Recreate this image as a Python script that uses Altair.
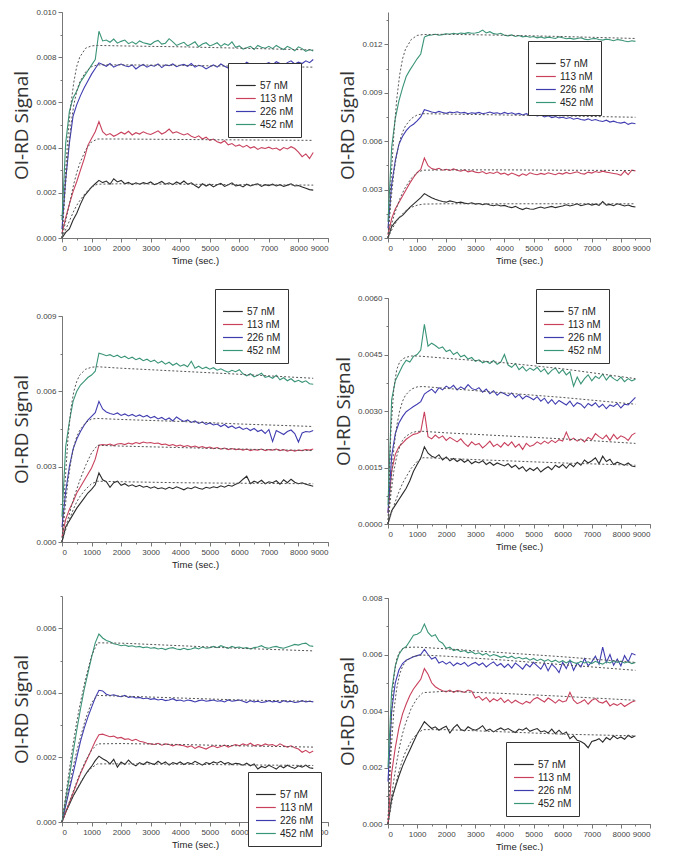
import altair as alt
import pandas as pd

# sampling grid of the measured curves (s)
T = [0, 125, 250, 375, 500, 625, 750, 875, 1000, 1125, 1250, 1375, 1500, 1625, 1750,
     1875, 2000, 2125, 2250, 2375, 2500, 2625, 2750, 2875, 3000, 3125, 3250, 3375,
     3500, 3625, 3750, 3875, 4000, 4125, 4250, 4375, 4500, 4625, 4750, 4875, 5000,
     5125, 5250, 5375, 5500, 5625, 5750, 5875, 6000, 6125, 6250, 6375, 6500, 6625,
     6750, 6875, 7000, 7125, 7250, 7375, 7500, 7625, 7750, 7875, 8000, 8125, 8250,
     8375, 8500]
FIT_T = [0, 100, 200, 300, 400, 500, 600, 800, 1000, 1200, 2000, 4000, 6000, 8500]
SERIES = ["57 nM", "113 nM", "226 nM", "452 nM"]
COLORS = ["#2b2b2b", "#c8405c", "#3f3cb0", "#3a9478"]
X_TICKS = [0, 1000, 2000, 3000, 4000, 5000, 6000, 7000, 8000, 9000]
X_MINOR = [0, 500, 1000, 1500, 2000, 2500, 3000, 3500, 4000, 4500, 5000, 5500,
           6000, 6500, 7000, 7500, 8000, 8500, 9000]

# signal values in units of 1e-5
p1_57 = [0, 25, 40, 80, 110, 150, 185, 205, 225, 240, 255,
         245, 252, 238, 262, 248, 255, 240, 246, 236, 244, 238, 245, 240, 248,
         236, 242, 250, 238, 244, 236, 248, 240,
         252, 238, 244, 232, 222, 240, 230, 238,
         226, 236, 242, 228, 236, 244, 230, 234,
         226, 238, 230, 236, 240, 228, 236, 232,
         238, 230, 236, 228, 234, 240, 230, 232,
         226, 220, 214, 212]
p1_113 = [20, 90, 150, 205, 250, 300, 350, 410, 440, 470, 515,
          470, 455, 462, 450, 458, 468, 460, 472, 456, 466, 460, 470, 462, 458,
          466, 474, 460, 468, 482, 464, 470, 462,
          456, 462, 450, 444, 452, 438, 446, 432,
          438, 426, 420, 430, 412, 418, 406, 412,
          402, 410, 398, 404, 392, 400, 396, 402,
          394, 398, 388, 400, 394, 404, 396, 380,
          360, 372, 352, 378]
p1_226 = [40, 260, 420, 540, 590, 630, 665, 695, 725, 750, 775,
          768, 760, 772, 756, 764, 770, 762, 758, 766, 748, 760, 768, 756, 764,
          760, 770, 754, 766, 762, 770, 758, 764,
          768, 760, 772, 756, 764, 760, 748, 758,
          766, 756, 770, 760, 752, 764, 772, 760,
          764, 778, 768, 760, 772, 764, 770, 776,
          766, 780, 772, 764, 776, 784, 770, 778,
          772, 784, 776, 790]
p1_452 = [80, 420, 560, 620, 650, 690, 715, 740, 765, 790, 915,
          872, 876, 866, 880, 862, 870, 876, 860, 868, 858, 872, 864, 860, 856,
          868, 874, 858, 862, 882, 868, 852, 860,
          866, 850, 858, 868, 846, 858, 864, 850,
          856, 864, 848, 860, 852, 868, 844, 850,
          836, 842, 848, 834, 852, 844, 840, 848,
          838, 852, 842, 834, 848, 840, 828, 846,
          838, 826, 834, 828]

p2_57 = [0, 70, 100, 125, 140, 165, 190, 210, 230, 250, 275,
         262, 250, 240, 232, 226, 222, 230, 224, 218, 222, 216, 212, 218, 210,
         214, 206, 212, 204, 200, 206, 198, 202,
         194, 188, 196, 184, 176, 186, 180, 178,
         186, 192, 184, 190, 196, 188, 194, 198,
         206, 198, 204, 212, 200, 206, 212, 204,
         210, 202, 226, 204, 208, 200, 212, 206,
         198, 204, 196, 192]
p2_113 = [20, 120, 180, 220, 260, 300, 340, 375, 405, 425, 495,
          448, 430, 424, 432, 420, 426, 418, 428, 420, 414, 422, 410, 416, 408,
          404, 412, 398, 406, 400, 410, 396, 402,
          390, 402, 394, 384, 398, 388, 404, 396,
          392, 400, 394, 404, 398, 392, 402, 396,
          406, 398, 404, 410, 400, 396, 408, 402,
          412, 406, 414, 408, 404, 400, 396, 388,
          414, 392, 420, 416]
p2_226 = [60, 330, 480, 580, 630, 665, 690, 705, 725, 750, 795,
          788, 780, 776, 784, 778, 772, 780, 776, 782, 774, 778, 770, 776, 772,
          778, 770, 774, 780, 772, 776, 768, 778,
          770, 776, 766, 772, 762, 770, 760, 764,
          756, 762, 750, 758, 746, 752, 744, 748,
          740, 746, 736, 742, 734, 730, 738, 728,
          734, 726, 722, 730, 718, 724, 716, 712,
          718, 704, 712, 708]
p2_452 = [100, 560, 740, 850, 930, 1000, 1040, 1075, 1110, 1140, 1245,
          1255, 1258, 1262, 1256, 1260, 1265, 1262, 1268, 1264, 1270, 1266, 1272, 1268, 1270,
          1275, 1288, 1270, 1278, 1266, 1262, 1268, 1256,
          1252, 1258, 1248, 1254, 1246, 1250, 1244, 1248,
          1240, 1246, 1238, 1244, 1240, 1236, 1246, 1240,
          1234, 1238, 1232, 1236, 1240, 1232, 1228, 1234,
          1236, 1230, 1226, 1232, 1228, 1222, 1230, 1226,
          1220, 1216, 1222, 1218]

p3_57 = [0, 60, 85, 110, 135, 155, 175, 195, 210, 228, 275,
         248, 240, 218, 236, 242, 226, 232, 222, 228, 220, 226, 218, 222, 214,
         220, 212, 216, 210, 218, 212, 220, 214,
         208, 216, 212, 220, 214, 210, 218, 214,
         220, 216, 224, 218, 226, 222, 230, 236,
         250, 262, 232, 242, 236, 246, 232, 240,
         236, 244, 230, 248, 236, 250, 238, 232,
         236, 230, 226, 222]
p3_113 = [20, 90, 130, 160, 195, 220, 245, 270, 295, 330, 385,
          388, 386, 390, 384, 390, 392, 388, 394, 390, 396, 392, 398, 394, 396,
          392, 394, 388, 390, 384, 388, 382, 386,
          380, 384, 378, 382, 376, 380, 374, 378,
          372, 376, 370, 374, 368, 372, 368, 370,
          366, 370, 364, 368, 366, 370, 364, 368,
          366, 370, 364, 368, 362, 366, 362, 366,
          364, 368, 366, 370]
p3_226 = [60, 200, 300, 370, 410, 440, 465, 485, 500, 515, 560,
          530, 518, 512, 508, 514, 504, 510, 502, 508, 500, 506, 498, 504, 494,
          500, 490, 496, 486, 494, 482, 498, 488,
          480, 486, 476, 482, 472, 478, 468, 474,
          466, 470, 460, 468, 456, 462, 452, 458,
          448, 454, 444, 452, 440, 446, 432, 448,
          400, 444, 436, 428, 440, 446, 432, 398,
          434, 440, 438, 444]
p3_452 = [100, 380, 480, 560, 600, 625, 640, 655, 665, 680, 752,
          748, 742, 746, 738, 744, 734, 740, 730, 736, 726, 732, 722, 728, 718,
          724, 712, 720, 708, 716, 704, 712, 700,
          706, 698, 720, 692, 700, 690, 696, 688,
          694, 684, 690, 682, 676, 684, 678, 686,
          670, 662, 670, 658, 664, 672, 656, 660,
          652, 664, 646, 654, 642, 650, 638, 644,
          636, 642, 630, 628]

p4_57 = [0, 35, 50, 65, 80, 95, 115, 140, 158, 175, 205,
         188, 180, 176, 184, 170, 178, 168, 174, 166, 172, 164, 170, 160, 166,
         162, 168, 158, 164, 156, 162, 158, 154,
         160, 150, 156, 146, 152, 140, 148, 142,
         150, 138, 146, 152, 144, 156, 150, 158,
         148, 160, 152, 164, 156, 170, 162, 168,
         176, 160, 180, 166, 172, 158, 164, 160,
         156, 162, 154, 152]
p4_113 = [30, 140, 185, 205, 215, 225, 232, 238, 240, 245, 298,
          232, 226, 236, 228, 234, 222, 230, 224, 218, 226, 214, 206, 218, 210,
          214, 202, 210, 220, 206, 212, 204, 216,
          208, 218, 204, 212, 198, 214, 206, 210,
          218, 212, 220, 214, 222, 216, 224, 220,
          244, 222, 228, 220, 226, 218, 230, 224,
          240, 232, 226, 236, 222, 238, 226, 234,
          230, 222, 236, 242]
p4_226 = [30, 180, 240, 268, 285, 298, 305, 312, 318, 325, 345,
          352, 358, 348, 362, 356, 366, 360, 368, 356, 364, 358, 370, 360, 356,
          362, 350, 358, 346, 354, 342, 350, 346,
          340, 348, 336, 344, 332, 340, 336, 330,
          338, 326, 334, 320, 330, 318, 328, 322,
          316, 326, 312, 322, 318, 308, 320, 314,
          322, 310, 318, 306, 316, 312, 320, 308,
          318, 316, 326, 336]
p4_452 = [50, 330, 380, 400, 420, 435, 430, 445, 450, 462, 530,
          472, 480, 474, 466, 470, 458, 462, 450, 456, 444, 448, 438, 442, 432,
          436, 428, 432, 426, 434, 424, 430, 450,
          422, 416, 426, 410, 418, 406, 414, 408,
          416, 404, 412, 398, 408, 414, 400, 410,
          396, 404, 366, 390, 372, 386, 396, 380,
          392, 386, 398, 382, 394, 386, 380, 390,
          378, 386, 380, 384]

p5_57 = [0, 30, 55, 80, 100, 120, 140, 158, 172, 190, 204,
         196, 190, 180, 194, 170, 186, 178, 192, 180, 174, 184, 178, 186, 182,
         178, 188, 180, 186, 176, 184, 180, 186,
         178, 184, 180, 188, 182, 176, 184, 180,
         186, 182, 188, 180, 184, 178, 182, 180,
         176, 182, 174, 180, 164, 172, 168, 176,
         170, 164, 174, 168, 176, 170, 166, 174,
         170, 176, 168, 166]
p5_113 = [0, 30, 60, 90, 120, 150, 175, 200, 225, 250, 270,
          272, 268, 264, 266, 260, 262, 256, 258, 252, 256, 250, 248, 244, 242,
          240, 244, 238, 242, 240, 236, 240, 238,
          236, 232, 236, 228, 234, 230, 226, 232,
          236, 230, 234, 238, 232, 236, 240, 236,
          242, 238, 244, 236, 240, 236, 242, 238,
          240, 234, 242, 236, 232, 236, 230, 226,
          216, 222, 214, 220]
p5_226 = [0, 50, 100, 150, 200, 250, 290, 325, 355, 385, 408,
          406, 396, 392, 394, 390, 388, 392, 386, 388, 384, 386, 382, 384, 380,
          382, 378, 380, 376, 378, 382, 376, 378,
          374, 378, 376, 372, 376, 378, 374, 376,
          378, 374, 376, 372, 378, 374, 376, 378,
          374, 370, 376, 372, 374, 370, 372, 376,
          372, 374, 370, 376, 372, 374, 370, 372,
          376, 372, 374, 372]
p5_452 = [0, 70, 140, 215, 285, 350, 410, 460, 510, 555, 582,
          570, 562, 558, 552, 550, 546, 548, 544, 546, 542, 544, 540, 542, 538,
          540, 536, 538, 534, 538, 540, 536, 534,
          538, 534, 536, 540, 536, 542, 538, 540,
          544, 540, 546, 542, 538, 544, 540, 542,
          538, 540, 536, 540, 542, 546, 540, 538,
          542, 544, 540, 538, 542, 546, 550, 548,
          552, 554, 546, 544]

p6_57 = [0, 90, 130, 170, 205, 235, 262, 290, 318, 340, 362,
         350, 338, 344, 332, 340, 346, 322, 340, 352, 334, 330, 344, 336, 332,
         338, 348, 330, 336, 326, 334, 340, 332,
         338, 330, 324, 336, 332, 340, 328, 334,
         338, 326, 330, 322, 336, 320, 332, 318,
         326, 302, 312, 296, 292, 284, 270, 292,
         296, 302, 290, 306, 298, 312, 302, 308,
         300, 314, 306, 312]
p6_113 = [0, 180, 270, 340, 390, 425, 455, 478, 495, 512, 550,
          530, 500, 486, 478, 472, 468, 474, 466, 472, 470, 466, 474, 470, 446,
          452, 438, 448, 432, 444, 436, 446, 430,
          440, 428, 438, 430, 424, 434, 428, 442,
          448, 440, 432, 446, 438, 428, 440, 432,
          436, 466, 438, 426, 432, 440, 424, 438,
          444, 432, 428, 436, 418, 426, 420, 428,
          416, 424, 432, 436]
p6_226 = [150, 400, 500, 545, 568, 580, 586, 592, 596, 600, 618,
          600, 584, 590, 570, 576, 566, 574, 560, 570, 564, 572, 558, 566, 572,
          562, 570, 556, 566, 574, 560, 568, 554,
          566, 552, 570, 560, 548, 566, 556, 572,
          560, 548, 570, 542, 566, 554, 536, 572,
          550, 580, 544, 570, 556, 586, 560, 574,
          594, 566, 626, 572, 600, 562, 584, 560,
          596, 574, 604, 598]
p6_452 = [200, 470, 560, 600, 620, 628, 648, 668, 672, 680, 708,
          678, 664, 670, 648, 640, 622, 626, 614, 618, 610, 614, 606, 610, 602,
          606, 598, 604, 594, 600, 596, 590, 594,
          588, 594, 586, 590, 584, 588, 580, 586,
          578, 584, 576, 582, 574, 580, 572, 578,
          570, 578, 572, 568, 576, 570, 574, 568,
          576, 570, 566, 574, 570, 578, 572, 576,
          570, 574, 568, 572]

# fitted curves (dotted), units of 1e-5, at FIT_T
f1 = [[0, 30, 60, 90, 120, 145, 165, 200, 225, 238, 240, 238, 236, 234],
      [0, 60, 120, 180, 240, 290, 330, 390, 425, 438, 438, 436, 434, 432],
      [0, 200, 370, 500, 590, 650, 690, 735, 758, 766, 766, 764, 760, 756],
      [0, 250, 450, 590, 690, 760, 800, 840, 850, 852, 850, 846, 840, 832]]
f2 = [[0, 40, 75, 105, 130, 150, 168, 190, 203, 210, 212, 212, 212, 212],
      [0, 70, 135, 190, 240, 280, 315, 370, 405, 420, 422, 422, 420, 418],
      [0, 230, 400, 520, 600, 655, 695, 740, 762, 770, 768, 762, 756, 748],
      [0, 350, 640, 860, 1010, 1110, 1170, 1230, 1255, 1260, 1262, 1256, 1248, 1236]]
f3 = [[0, 40, 75, 105, 135, 160, 180, 210, 232, 242, 240, 236, 234, 232],
      [0, 45, 90, 135, 175, 210, 245, 305, 355, 385, 382, 376, 370, 364],
      [0, 130, 240, 320, 380, 420, 445, 475, 490, 492, 488, 480, 470, 460],
      [0, 230, 410, 530, 600, 640, 665, 688, 696, 698, 692, 680, 668, 652]]
f4 = [[0, 25, 48, 70, 90, 108, 122, 148, 166, 176, 174, 168, 162, 156],
      [0, 80, 140, 180, 205, 222, 232, 242, 246, 246, 242, 234, 226, 214],
      [0, 110, 200, 260, 300, 326, 342, 358, 364, 365, 360, 348, 336, 318],
      [0, 250, 360, 410, 430, 438, 442, 446, 446, 445, 440, 428, 412, 386]]
f5 = [[0, 25, 45, 65, 85, 102, 118, 148, 168, 180, 180, 179, 177, 175],
      [0, 25, 50, 75, 100, 125, 148, 190, 222, 242, 243, 240, 236, 232],
      [0, 45, 90, 135, 180, 220, 255, 320, 370, 392, 390, 384, 378, 374],
      [0, 65, 130, 195, 255, 310, 360, 445, 515, 555, 554, 546, 538, 530]]
f6 = [[0, 60, 110, 155, 195, 228, 255, 295, 320, 334, 334, 326, 318, 312],
      [0, 80, 155, 220, 275, 320, 355, 410, 445, 465, 470, 462, 452, 438],
      [0, 250, 400, 480, 530, 558, 575, 590, 596, 598, 594, 580, 564, 544],
      [0, 340, 520, 585, 610, 620, 624, 626, 626, 625, 620, 606, 592, 572]]

Y1 = [0, 0.002, 0.004, 0.006, 0.008, 0.010]
Y1m = [0, 0.001, 0.002, 0.003, 0.004, 0.005, 0.006, 0.007, 0.008, 0.009, 0.010]
Y2 = [0, 0.003, 0.006, 0.009, 0.012]
Y2m = [0, 0.0015, 0.003, 0.0045, 0.006, 0.0075, 0.009, 0.0105, 0.012, 0.0135]
Y3 = [0, 0.003, 0.006, 0.009]
Y3m = [0, 0.0015, 0.003, 0.0045, 0.006, 0.0075, 0.009]
Y4 = [0, 0.0015, 0.003, 0.0045, 0.006]
Y4m = [0, 0.00075, 0.0015, 0.00225, 0.003, 0.00375, 0.0045, 0.00525, 0.006]
Y5 = [0, 0.002, 0.004, 0.006]
Y5m = [0, 0.001, 0.002, 0.003, 0.004, 0.005, 0.006, 0.007]
Y6 = [0, 0.002, 0.004, 0.006, 0.008]
Y6m = [0, 0.001, 0.002, 0.003, 0.004, 0.005, 0.006, 0.007, 0.008]

AX = dict(labelFont="Liberation Sans", labelFontSize=8, labelColor="#444",
          domainColor="#777", tickColor="#777", tickSize=4, grid=False, labelPadding=2)


def panel(meas, fits, ymax, yt, ym, fmt, lx, ly, w, h):
    rows = []
    for s, vals in zip(SERIES, meas):
        if len(vals) != len(T):
            raise ValueError(f"{s}: {len(vals)}")
        rows += [{"t": t, "v": v / 1e5, "s": s} for t, v in zip(T, vals)]
    df = pd.DataFrame(rows)
    frows = []
    for s, vals in zip(SERIES, fits):
        frows += [{"t": t, "v": v / 1e5, "s": s} for t, v in zip(FIT_T, vals)]
    fdf = pd.DataFrame(frows)
    xs = alt.Scale(domain=[0, 9000], nice=False)
    ys = alt.Scale(domain=[0, ymax], nice=False)
    lines = alt.Chart(df).mark_line(strokeWidth=1.1).encode(
        x=alt.X("t:Q", scale=xs, axis=alt.Axis(values=X_TICKS, format="d", labelOverlap=False,
                title="Time (sec.)", titleFont="Liberation Sans", titleFontSize=9.5,
                titleFontWeight="normal", titleColor="#222", titlePadding=3, **AX)),
        y=alt.Y("v:Q", scale=ys, axis=alt.Axis(values=yt, format=fmt, title="OI-RD Signal",
                titleFont="Open Sans", titleFontSize=19, titleFontWeight="normal",
                titleColor="#333", titlePadding=4, **AX)),
        color=alt.Color("s:N", scale=alt.Scale(domain=SERIES, range=COLORS),
                        legend=alt.Legend(orient="none", legendX=lx, legendY=ly, title=" ",
                                          titleFontSize=9, titlePadding=0, padding=7,
                                          strokeColor="#333", fillColor="white",
                                          symbolType="M-1,0H2.6", symbolSize=121,
                                          symbolStrokeWidth=1.2, labelFont="Liberation Sans",
                                          labelFontSize=10, labelColor="#222",
                                          labelOffset=12, rowPadding=1)),
    )
    fit = alt.Chart(fdf).mark_line(strokeDash=[2, 2], strokeWidth=1, color="#555").encode(
        x=alt.X("t:Q", scale=xs, axis=alt.Axis(values=X_MINOR, labels=False, domain=False,
                title=None, orient="bottom", tickSize=2, tickColor="#777", grid=False)),
        y=alt.Y("v:Q", scale=ys, axis=alt.Axis(values=ym, labels=False, domain=False,
                title=None, orient="left", tickSize=2, tickColor="#777", grid=False)),
        detail="s:N",
    )
    return alt.layer(lines, fit).resolve_axis(x="independent", y="independent").properties(
        width=w, height=h)


P1 = panel([p1_57, p1_113, p1_226, p1_452], f1, 0.010, Y1, Y1m, ".3f", 166, 51, 266, 226)
P2 = panel([p2_57, p2_113, p2_226, p2_452], f2, 0.014, Y2, Y2m, ".3f", 140, 29, 262, 226)
P3 = panel([p3_57, p3_113, p3_226, p3_452], f3, 0.009, Y3, Y3m, ".3f", 153, -27, 266, 226)
P4 = panel([p4_57, p4_113, p4_226, p4_452], f4, 0.006, Y4, Y4m, ".4f", 148, -9, 262, 226)
P5 = panel([p5_57, p5_113, p5_226, p5_452], f5, 0.007, Y5, Y5m, ".3f", 186, 176, 266, 226)
P6 = panel([p6_57, p6_113, p6_226, p6_452], f6, 0.008, Y6, Y6m, ".3f", 118, 144, 262, 226)

left = alt.vconcat(
    P1,
    alt.vconcat(P3, P5, spacing=54, bounds="flush").resolve_scale(color="independent"),
    spacing=78, bounds="flush").resolve_scale(color="independent")
right = alt.vconcat(
    P2,
    alt.vconcat(P4, P6, spacing=74, bounds="flush").resolve_scale(color="independent"),
    spacing=60, bounds="flush").resolve_scale(color="independent")

chart = alt.hconcat(left, right, spacing=5).resolve_scale(
    color="independent").configure_view(strokeWidth=0).properties(
    padding={"left": 4, "top": 0, "right": 0, "bottom": 0})

chart.save("out.html", embed_options={"renderer": "svg", "actions": False})
